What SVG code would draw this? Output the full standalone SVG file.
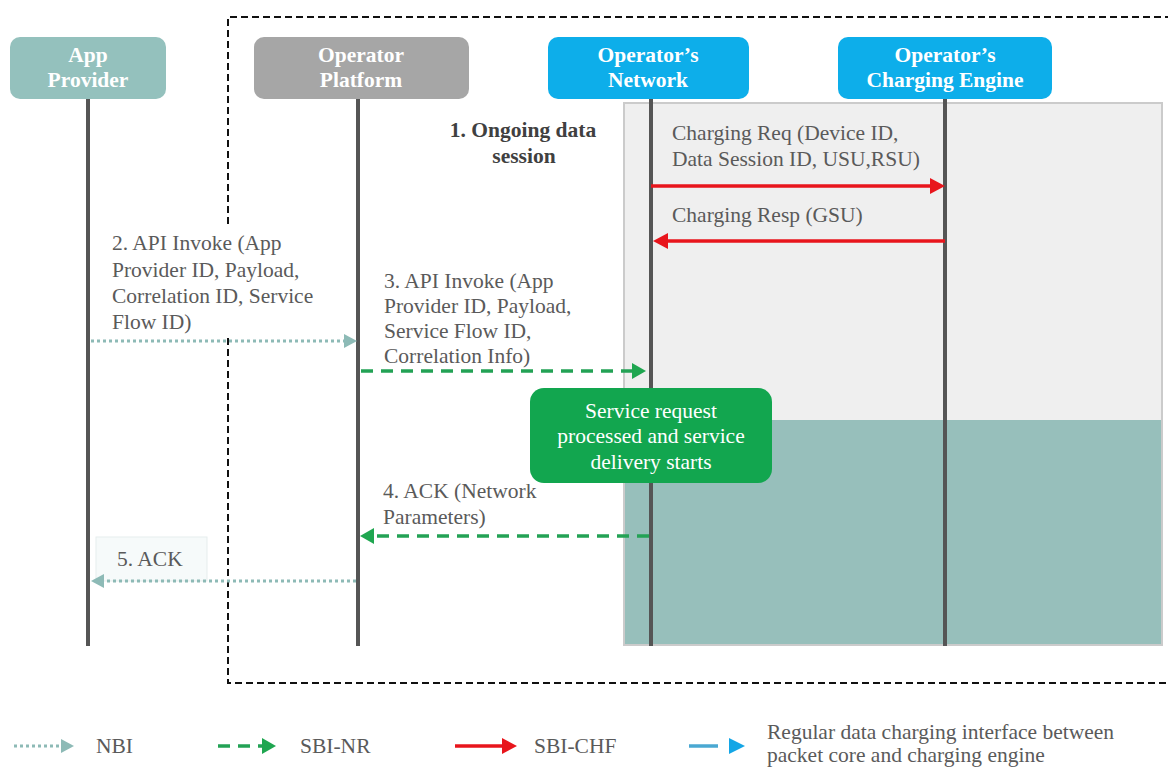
<svg xmlns="http://www.w3.org/2000/svg" width="1168" height="767" viewBox="0 0 1168 767">
<style>
text{font-family:"Liberation Serif","DejaVu Serif","Times New Roman",Times,serif;font-size:21.5px}
.hd{fill:#fff;font-weight:bold;text-anchor:middle}
.lb{fill:#5a5a5a}
.life{stroke:#555;stroke-width:4}
.nbi{stroke:#8dbab6;stroke-width:3;stroke-dasharray:3 3;fill:none}
.nr{stroke:#23a255;stroke-width:3.5;stroke-dasharray:12 8;fill:none}
.chf{stroke:#e8151c;stroke-width:3.5;fill:none}
</style>
<defs>
<marker id="mNbi" markerUnits="userSpaceOnUse" markerWidth="14" markerHeight="14" refX="0" refY="7" orient="auto"><path d="M0,0 L13,7 L0,14 z" fill="#8dbab6"/></marker>
<marker id="mNr" markerUnits="userSpaceOnUse" markerWidth="14" markerHeight="16" refX="0" refY="8" orient="auto"><path d="M0,0 L14,8 L0,16 z" fill="#1fa650"/></marker>
<marker id="mChf" markerUnits="userSpaceOnUse" markerWidth="16" markerHeight="16" refX="0" refY="8" orient="auto"><path d="M0,0 L15,8 L0,16 z" fill="#e8151c"/></marker>
</defs>
<rect width="1168" height="767" fill="#fff"/>

<path d="M1172,17 H228 V683 H1172" fill="none" stroke="#111" stroke-width="2" stroke-dasharray="7 4"/>

<g id="core-area">
<rect x="624" y="103" width="538" height="542" fill="#efefef" stroke="#cbcbcb" stroke-width="2"/>
<rect x="625" y="420" width="536" height="224" fill="#97bfbb"/>
</g>

<rect x="104" y="227" width="216" height="110" fill="#fff"/>
<rect x="96" y="537" width="111" height="44" fill="#f6fafa" stroke="#e6eded" stroke-width="1"/>

<g id="lifelines">
<line class="life" x1="88" y1="99" x2="88" y2="646"/>
<line class="life" x1="358" y1="99" x2="358" y2="646"/>
<line class="life" x1="651" y1="99" x2="651" y2="646"/>
<line class="life" x1="945" y1="99" x2="945" y2="646"/>
</g>

<g id="connectors">
<line class="chf" x1="651" y1="186" x2="930" y2="186" marker-end="url(#mChf)"/>
<line class="chf" x1="945" y1="241" x2="668" y2="241" marker-end="url(#mChf)"/>
<line class="nbi" x1="91" y1="341" x2="344" y2="341" marker-end="url(#mNbi)"/>
<line class="nr" x1="361" y1="371" x2="632" y2="371" marker-end="url(#mNr)"/>
<line class="nr" x1="649" y1="536" x2="374" y2="536" marker-end="url(#mNr)"/>
<line class="nbi" x1="356" y1="581" x2="104" y2="581" marker-end="url(#mNbi)"/>
</g>

<g id="labels">
<text x="523" y="137" style="font-weight:bold;fill:#404040" text-anchor="middle">1. Ongoing data</text>
<text x="524" y="163" style="font-weight:bold;fill:#404040" text-anchor="middle">session</text>
<text class="lb" x="672" y="140">Charging Req (Device ID,</text>
<text class="lb" x="672" y="166">Data Session ID, USU,RSU)</text>
<text class="lb" x="672" y="222">Charging Resp (GSU)</text>
<text class="lb" x="112" y="250">2. API Invoke (App</text>
<text class="lb" x="112" y="277">Provider ID, Payload,</text>
<text class="lb" x="112" y="303">Correlation ID, Service</text>
<text class="lb" x="112" y="329">Flow ID)</text>
<text class="lb" x="384" y="288">3. API Invoke (App</text>
<text class="lb" x="384" y="313">Provider ID, Payload,</text>
<text class="lb" x="384" y="338">Service Flow ID,</text>
<text class="lb" x="384" y="363">Correlation Info)</text>
<text class="lb" x="383" y="498">4. ACK (Network</text>
<text class="lb" x="383" y="524">Parameters)</text>
<text class="lb" x="117" y="566">5. ACK</text>
</g>

<g id="service-box">
<rect x="530" y="388" width="242" height="95" rx="14" fill="#12a64f"/>
<text x="651" y="418" fill="#fff" text-anchor="middle">Service request</text>
<text x="651" y="443" fill="#fff" text-anchor="middle">processed and service</text>
<text x="651" y="469" fill="#fff" text-anchor="middle">delivery starts</text>
</g>

<g id="app-provider">
<rect x="10" y="37" width="156" height="62" rx="10" fill="#94c1bd"/>
<text class="hd" x="88" y="62">App</text>
<text class="hd" x="88" y="87">Provider</text>
</g>
<g id="operator-platform">
<rect x="254" y="37" width="215" height="62" rx="10" fill="#a6a6a6"/>
<text class="hd" x="361" y="62">Operator</text>
<text class="hd" x="361" y="87">Platform</text>
</g>
<g id="operators-network">
<rect x="548" y="37" width="201" height="62" rx="10" fill="#0daeea"/>
<text class="hd" x="648" y="62">Operator’s</text>
<text class="hd" x="648" y="87">Network</text>
</g>
<g id="charging-engine">
<rect x="838" y="37" width="214" height="62" rx="10" fill="#0daeea"/>
<text class="hd" x="945" y="62">Operator’s</text>
<text class="hd" x="945" y="87">Charging Engine</text>
</g>

<g id="legend">
<line class="nbi" x1="14" y1="746" x2="61" y2="746" marker-end="url(#mNbi)"/>
<text class="lb" x="96" y="753">NBI</text>
<line class="nr" x1="218" y1="746" x2="262" y2="746" marker-end="url(#mNr)"/>
<text class="lb" x="300" y="753">SBI-NR</text>
<line class="chf" x1="455" y1="746" x2="502" y2="746" marker-end="url(#mChf)"/>
<text class="lb" x="534" y="753">SBI-CHF</text>
<line x1="689" y1="746" x2="718" y2="746" stroke="#4aa8d2" stroke-width="3.5"/>
<path d="M729,738 L745,746 L729,754 z" fill="#14a6e6"/>
<text class="lb" x="767" y="739">Regular data charging interface between</text>
<text class="lb" x="767" y="762">packet core and charging engine</text>
</g>
</svg>
